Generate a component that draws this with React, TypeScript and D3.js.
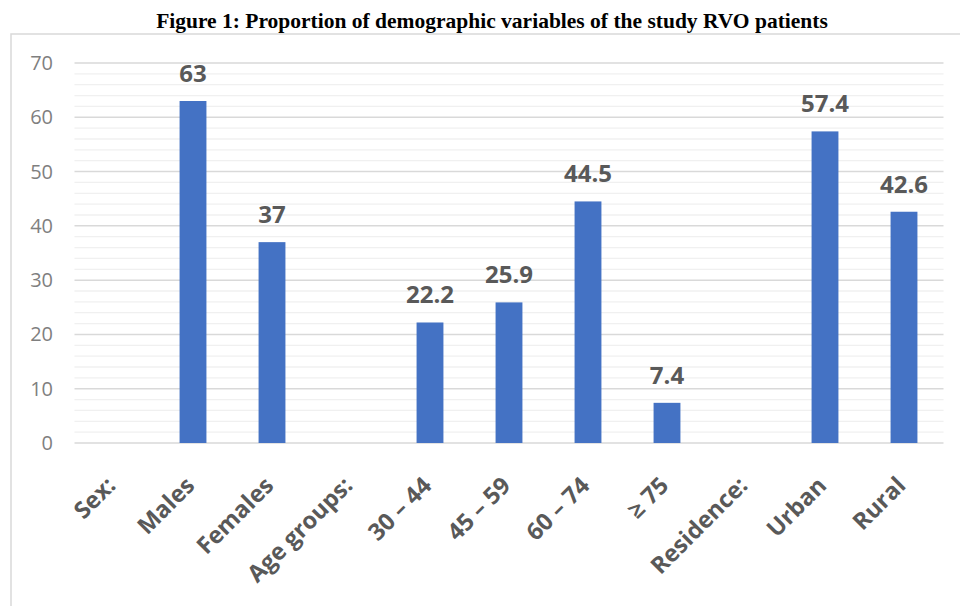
import React from 'react';
import * as d3 from 'd3';

const categories = ['Sex:', 'Males', 'Females', 'Age groups:', '30 – 44', '45 – 59', '60 – 74', '≥ 75', 'Residence:', 'Urban', 'Rural'];
const values: (number | null)[] = [null, 63, 37, null, 22.2, 25.9, 44.5, 7.4, null, 57.4, 42.6];
const majorTicks = [0, 10, 20, 30, 40, 50, 60, 70];

const title = 'Figure 1: Proportion of demographic variables of the study RVO patients';

const W = 960;
const H = 606;
const margin = { top: 63, left: 74.5, right: 16.5, bottom: 163 };

const App = () => {
  const x = d3.scaleBand<string>()
    .domain(categories)
    .range([margin.left, W - margin.right])
    .paddingInner(0.66)
    .paddingOuter(0.33);

  const y = d3.scaleLinear()
    .domain([0, 70])
    .range([H - margin.bottom, margin.top]);

  const minorTicks = d3.range(0, 70, 2).filter((v) => v % 10 !== 0);
  const font = '"Open Sans", "DejaVu Sans", sans-serif';

  return (
    <svg width={W} height={H} style={{ position: 'absolute', left: 0, top: 0, background: '#fff' }}>
      <rect x={11} y={34} width={1000} height={1000} fill="#fff" stroke="#d9d9d9" strokeWidth={1.5} />
      <text x={492} y={28} textAnchor="middle" fontFamily='"Liberation Serif", "Times New Roman", serif'
        fontWeight="bold" fontSize={21.5} fill="#000">{title}</text>

      {minorTicks.map((t) => (
        <line key={'m' + t} x1={margin.left} x2={W - margin.right} y1={y(t)} y2={y(t)} stroke="#f0f0f0" strokeWidth={1.3} />
      ))}
      {majorTicks.map((t) => (
        <g key={'t' + t}>
          <line x1={margin.left} x2={W - margin.right} y1={y(t)} y2={y(t)} stroke="#d9d9d9" strokeWidth={1.5} />
          <text x={53} y={y(t)} dy="0.35em" textAnchor="end" fontFamily={font} fontSize={20} fill="#7f7f7f">{t}</text>
        </g>
      ))}

      {categories.map((c, i) => {
        const v = values[i];
        if (v == null) return null;
        const bx = x(c)!;
        return (
          <g key={'b' + c}>
            <rect x={bx} y={y(v)} width={x.bandwidth()} height={y(0) - y(v)} fill="#4472c4" />
            <text x={bx + x.bandwidth() / 2} y={y(v) - 19} textAnchor="middle" fontFamily={font}
              fontWeight="bold" fontSize={24} fill="#595959">{v}</text>
          </g>
        );
      })}

      {categories.map((c) => {
        const cx = x(c)! + x.bandwidth() / 2 + 3;
        const cy = y(0) + 44;
        return (
          <text key={'l' + c} x={cx} y={cy} transform={`rotate(-45, ${cx}, ${cy})`} textAnchor="end"
            fontFamily={font} fontWeight="bold" fontSize={23.5} fill="#595959">{c}</text>
        );
      })}
    </svg>
  );
};

export default App;
